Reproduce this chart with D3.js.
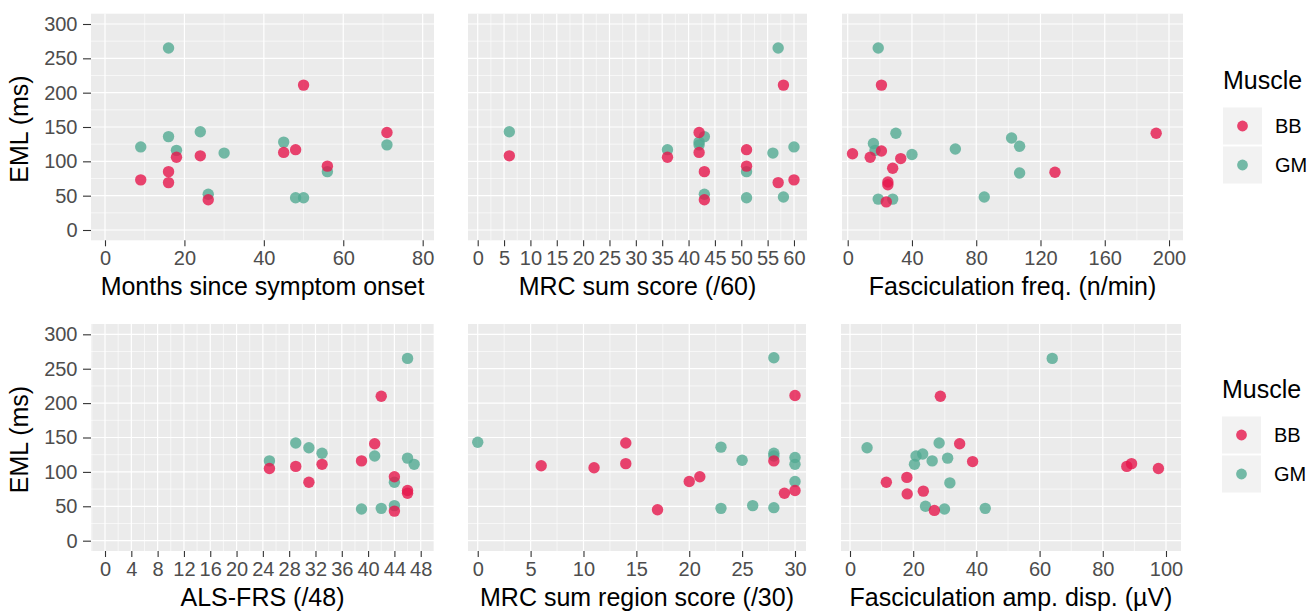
<!DOCTYPE html>
<html>
<head>
<meta charset="utf-8">
<script src="https://cdn.jsdelivr.net/npm/d3@7"></script>
<style>
  body { margin: 0; background: #fff; }
  text { font-family: "Liberation Sans", Arial, sans-serif; }
</style>
</head>
<body>
<div id="chart"></div>
<script>
// values: [x, EML]
const monthsBB = [[9,73],[16,85],[16,69],[18,106],[24,108],[26,44],[45,113],[48,117],[50,211],[56,93],[71,142]];
const monthsGM = [[16,265],[16,136],[9,121],[18,116],[24,143],[30,112],[26,52],[45,128],[48,47],[50,47],[56,85],[71,124]];

const mrcBB = [[6,108],[36,106],[42,142],[42,113],[43,85],[43,44],[51,117],[51,93],[58,211],[57,69],[60,73]];
const mrcGM = [[57,265],[6,143],[36,117],[43,136],[42,128],[42,124],[43,52],[51,85],[51,47],[56,112],[60,121],[58,48]];

const freqBB = [[21,211],[3,111],[14,106],[21,115],[33,104],[28,90],[25,70],[25,66],[24,41],[129,84],[192,141]];
const freqGM = [[19,265],[30,141],[16,126],[17,116],[40,110],[67,118],[102,134],[107,122],[107,83],[85,48],[19,45],[28,45]];

const alsBB = [[42,210],[41,141],[25,105],[29,108],[31,85],[33,111],[39,116],[44,93],[46,73],[46,69],[44,43]];
const alsGM = [[46,265],[29,142],[31,135],[33,127],[25,116],[41,123],[46,120],[47,111],[44,85],[44,51],[39,46],[42,47]];

const regionBB = [[30,211],[14,142],[14,112],[6,109],[11,106],[20,86],[21,93],[28,116],[29,69],[30,73],[17,45]];
const regionGM = [[28,266],[0,143],[23,136],[28,127],[28,123],[25,117],[30,121],[30,111],[30,86],[26,51],[23,47],[28,48]];

const ampBB = [[28.6,210],[34.7,141],[38.8,115],[11.5,85],[18,92],[18.1,68],[23.2,72],[26.7,44],[87.6,108],[89.1,112],[97.6,105]];
const ampGM = [[64,265],[5.4,135],[28.2,142],[20.9,123],[23,126],[20.4,111],[26,116],[30.9,120],[31.6,84],[23.9,50],[29.9,46],[42.8,47]];

const yBreaks = [0,50,100,150,200,250,300];
const monthsBreaks = [0,20,40,60,80];
const mrcBreaks = d3.range(0, 61, 5);
const freqBreaks = [0,40,80,120,160,200];
const alsBreaks = d3.range(0, 49, 4);
const regionBreaks = [0,5,10,15,20,25,30];
const ampBreaks = [0,20,40,60,80,100];

const muscles = ["BB", "GM"];
const colors = {BB: "#E6174C", GM: "#52AA92"};

const W = 1309, H = 612;
const svg = d3.select("#chart").append("svg").attr("width", W).attr("height", H);

function txt(sel, x, y, s, o) {
  let tr = `translate(${x},${y})`;
  if (o.rot) tr += ` rotate(${o.rot})`;
  sel.append("text").attr("transform", tr)
    .attr("text-anchor", o.anchor || "start")
    .style("font-size", o.size + "px")
    .style("fill", o.fill || "#000")
    .text(s);
}

function minorOf(breaks, dom) {
  let step = breaks[1] - breaks[0];
  let out = [];
  for (let i = -1; i < breaks.length; i++) {
    let v = breaks[0] + step * (i + 0.5);
    if (v > dom[0] && v < dom[1]) out.push(v);
  }
  return out;
}

function panel(p) {
  let x = d3.scaleLinear().domain(p.xd).range([p.x0, p.x1]);
  let yd = [-15, 315];
  let y = d3.scaleLinear().domain(yd).range([p.yb, p.yt]);
  let g = svg.append("g");

  g.append("rect").attr("x", p.x0).attr("y", p.yt)
    .attr("width", p.x1 - p.x0).attr("height", p.yb - p.yt)
    .style("fill", "#EBEBEB");

  // minor grid
  minorOf(p.breaks, p.xd).forEach(v => {
    g.append("line").attr("x1", x(v)).attr("x2", x(v)).attr("y1", p.yt).attr("y2", p.yb)
      .style("stroke", "#fff").style("stroke-width", 0.6);
  });
  minorOf(yBreaks, yd).forEach(v => {
    g.append("line").attr("x1", p.x0).attr("x2", p.x1).attr("y1", y(v)).attr("y2", y(v))
      .style("stroke", "#fff").style("stroke-width", 0.6);
  });
  // major grid
  p.breaks.forEach(v => {
    g.append("line").attr("x1", x(v)).attr("x2", x(v)).attr("y1", p.yt).attr("y2", p.yb)
      .style("stroke", "#fff").style("stroke-width", 1.2);
  });
  yBreaks.forEach(v => {
    g.append("line").attr("x1", p.x0).attr("x2", p.x1).attr("y1", y(v)).attr("y2", y(v))
      .style("stroke", "#fff").style("stroke-width", 1.2);
  });

  // points
  [["GM", p.gm], ["BB", p.bb]].forEach(([m, data]) => {
    g.selectAll(null).data(data).enter().append("circle")
      .attr("cx", d => x(d[0])).attr("cy", d => y(d[1])).attr("r", 5.7)
      .style("fill", colors[m]).style("fill-opacity", 0.8);
  });

  // x axis
  let ax = g.append("g").attr("transform", `translate(0,${p.yb})`)
    .call(d3.axisBottom(x).tickValues(p.breaks).tickSize(6).tickPadding(5).tickFormat(d3.format("d")));
  ax.select(".domain").remove();
  ax.selectAll("line").style("stroke", "#333").style("stroke-width", 1.1);
  ax.selectAll("text").style("font-size", "20px").style("fill", "#4D4D4D")
    .style("font-family", '"Liberation Sans", Arial, sans-serif');

  if (p.yaxis) {
    let ay = g.append("g").attr("transform", `translate(${p.x0},0)`)
      .call(d3.axisLeft(y).tickValues(yBreaks).tickSize(8).tickPadding(5.5));
    ay.select(".domain").remove();
    ay.selectAll("line").style("stroke", "#333").style("stroke-width", 1.1);
    ay.selectAll("text").style("font-size", "20px").style("fill", "#4D4D4D")
      .style("font-family", '"Liberation Sans", Arial, sans-serif');
    txt(g, 28, (p.yt + p.yb) / 2 + 2, "EML (ms)", {size: 25, anchor: "middle", rot: -90});
  }

  txt(g, (p.x0 + p.x1) / 2, p.titleY, p.title, {size: 25, anchor: "middle"});
}

const topRow = {yt: 13.7, yb: 240.3, titleY: 295};
const botRow = {yt: 324.0, yb: 551.0, titleY: 606};

panel({...topRow, x0: 91, x1: 434, xd: [-3.525, 82.85], breaks: monthsBreaks, bb: monthsBB, gm: monthsGM,
  title: "Months since symptom onset", yaxis: true});
panel({...topRow, x0: 468, x1: 807, xd: [-1.84, 62.47], breaks: mrcBreaks, bb: mrcBB, gm: mrcGM,
  title: "MRC sum score (/60)"});
panel({...topRow, x0: 842, x1: 1183, xd: [-3.55, 208.7], breaks: freqBreaks, bb: freqBB, gm: freqGM,
  title: "Fasciculation freq. (n/min)"});
panel({...botRow, x0: 91, x1: 434, xd: [-2.13, 50.02], breaks: alsBreaks, bb: alsBB, gm: alsGM,
  title: "ALS-FRS (/48)", yaxis: true});
panel({...botRow, x0: 468, x1: 806, xd: [-0.92, 31.04], breaks: regionBreaks, bb: regionBB, gm: regionGM,
  title: "MRC sum region score (/30)"});
panel({...botRow, x0: 841, x1: 1181, xd: [-2.85, 104.75], breaks: ampBreaks, bb: ampBB, gm: ampGM,
  title: "Fasciculation amp. disp. (µV)"});

function legend(x0, y0) {
  let g = svg.append("g");
  txt(g, x0, y0, "Muscle", {size: 25});
  muscles.forEach((m, i) => {
    let ky = y0 + 18.5 + i * 39;
    g.append("rect").attr("x", x0).attr("y", ky).attr("width", 39).attr("height", 37)
      .style("fill", "#F2F2F2");
    g.append("circle").attr("cx", x0 + 19.5).attr("cy", ky + 18.5).attr("r", 5.4)
      .style("fill", colors[m]).style("fill-opacity", 0.8);
    txt(g, x0 + 52, ky + 18.5 + 7, m, {size: 20});
  });
}
legend(1223, 89);
legend(1222, 398);
</script>
</body>
</html>
